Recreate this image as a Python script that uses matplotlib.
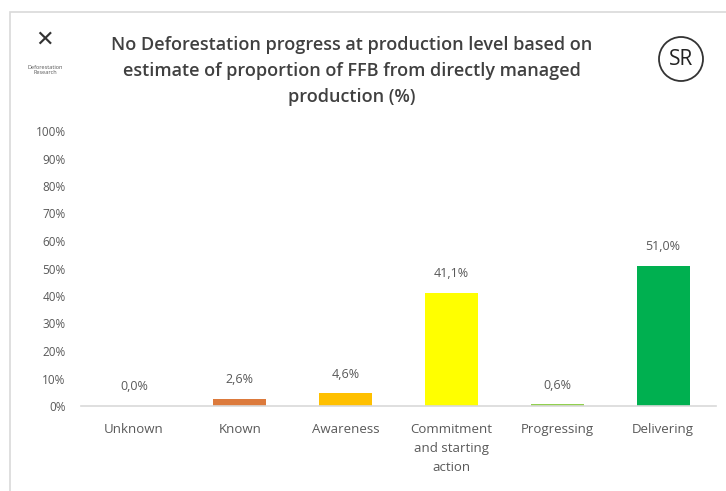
import matplotlib.pyplot as plt
from matplotlib.patches import Circle, Rectangle
import numpy as np

categories = ["Unknown", "Known", "Awareness", "Commitment\nand starting\naction", "Progressing", "Delivering"]
values = [0.0, 2.6, 4.6, 41.1, 0.6, 51.0]
labels = ["0,0%", "2,6%", "4,6%", "41,1%", "0,6%", "51,0%"]
colors = ["#5B9BD5", "#DC7A3C", "#FFC000", "#FFFF00", "#92D050", "#00B050"]
yticks = [0, 10, 20, 30, 40, 50, 60, 70, 80, 90, 100]

plt.rcParams['font.family'] = ['Open Sans', 'DejaVu Sans']
txt = "#595959"

fig = plt.figure(figsize=(7.26, 4.91), dpi=100)
ax = fig.add_axes([81 / 726, 1 - 406 / 491, 635 / 726, 275 / 491])

x = np.arange(len(categories))
ax.bar(x, values, width=0.5, color=colors)
for xi, v, lab in zip(x, values, labels):
    ax.annotate(lab, (xi, v), xytext=(0, 9), textcoords='offset points',
                ha='center', va='bottom', fontsize=9, color=txt)

ax.set_xlim(-0.5, len(categories) - 0.5)
ax.set_ylim(0, 100)
ax.set_yticks(yticks)
ax.set_yticklabels([f"{t}%" for t in yticks], fontsize=8.5, color=txt)
ax.set_xticks(x)
ax.set_xticklabels(categories, fontsize=9.5, color=txt, linespacing=1.6)
ax.tick_params(axis='x', length=0, pad=12)
ax.tick_params(axis='y', length=0, pad=11)
for s in ['top', 'right', 'left']:
    ax.spines[s].set_visible(False)
ax.spines['bottom'].set_color("#D9D9D9")
ax.spines['bottom'].set_linewidth(1.2)

# frame around chart
fig.patches.append(Rectangle((10 / 726, -0.05), 1.0, 1 - 12 / 491 + 0.05,
                             transform=fig.transFigure, fill=False,
                             edgecolor="#D9D9D9", linewidth=1.2))

fig.text(352 / 726, 1 - 71 / 491,
         "No Deforestation progress at production level based on\n"
         "estimate of proportion of FFB from directly managed\n"
         "production (%)",
         ha='center', va='center', fontsize=13, fontweight='semibold',
         color="#404040", linespacing=1.6)

# SR badge
bax = fig.add_axes([656 / 726, 1 - 84 / 491, 50 / 726, 50 / 491])
bax.set_xlim(-1, 1)
bax.set_ylim(-1, 1)
bax.set_aspect('equal')
bax.axis('off')
bax.add_patch(Circle((0, 0), 0.88, fill=False, edgecolor="#333333", linewidth=1.3))
bax.text(0, -0.02, "SR", ha='center', va='center', fontsize=15, color="#222222")

# logo placeholder
fig.text(45 / 726, 1 - 40 / 491, "✕", ha='center', va='center', fontsize=16,
         color="#333333", fontweight='bold')
fig.text(45 / 726, 1 - 70 / 491, "Deforestation\nResearch", ha='center', va='center',
         fontsize=4, color="#555555")

fig.savefig("out.png", dpi=100)
